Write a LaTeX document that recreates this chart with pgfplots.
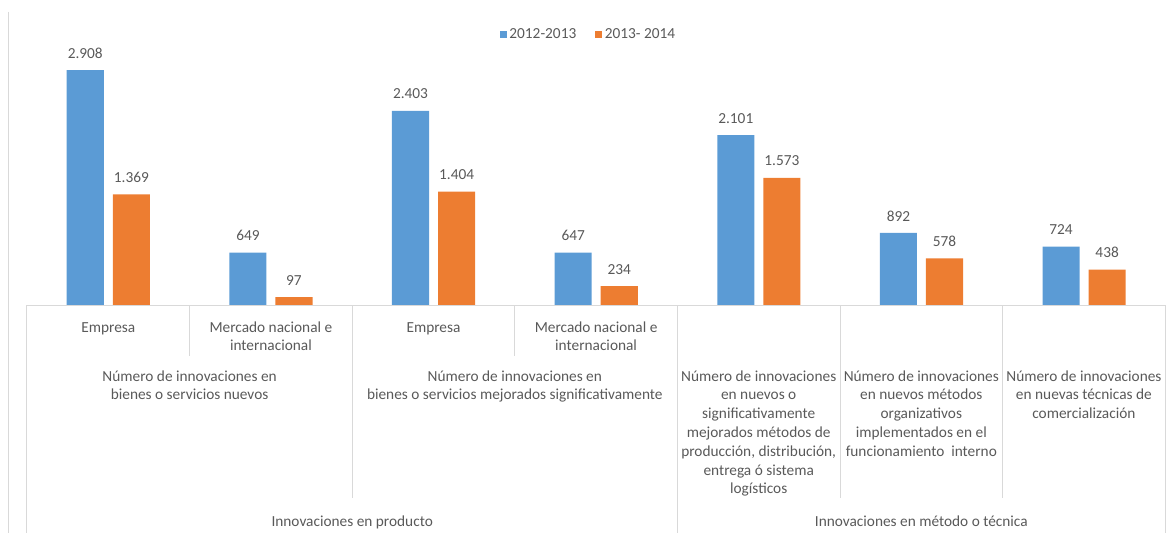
\documentclass[border=0pt]{standalone}
\usepackage{fontspec}
\setmainfont{Carlito}
\usepackage{pgfplots}
\pgfplotsset{compat=1.18}
\definecolor{cblue}{HTML}{5B9BD5}
\definecolor{corange}{HTML}{ED7D31}
\definecolor{ctext}{HTML}{595959}
\definecolor{cgrid}{HTML}{D9D9D9}
\newcommand{\lab}{\fontsize{11.5}{14}\selectfont}
% multi-line label: x, first baseline y (px), lines
\newcommand{\ml}[3]{%
  \foreach \t [count=\i from 0] in {#3}
    \node[anchor=base, inner sep=0pt, text=ctext, font=\lab] at (#1, #2+18.8*\i) {\t};%
}
\begin{document}
\begin{tikzpicture}
\begin{axis}[
  at={(0pt,0pt)}, anchor=south west,
  scale only axis, width=853.8pt, height=181.8pt,
  xmin=-0.5, xmax=6.5, ymin=0, ymax=3000,
  axis lines=none, xtick=\empty, ytick=\empty,
  clip=false,
  ybar=6.75pt,
  bar width=0.228,
  /pgf/number format/assume math mode=true,
  /pgf/number format/1000 sep={.},
  nodes near coords,
  every node near coord/.append style={font=\lab, text=ctext, anchor=center, yshift=12.75pt},
  legend columns=2,
  legend style={at={(0.4934,1.114)}, anchor=center, draw=none, fill=none,
    font=\lab, text=ctext, inner sep=0pt,
    /tikz/every even column/.append style={column sep=12pt}},
  legend image code/.code={\fill[#1,draw=none] (0pt,-2.6pt) rectangle (5.4pt,2.8pt);},
]
\addplot[fill=cblue, draw=none]
  coordinates {(0,2908) (1,649) (2,2403) (3,647) (4,2101) (5,892) (6,724)};
\addplot[fill=corange, draw=none]
  coordinates {(0,1369) (1,97) (2,1404) (3,234) (4,1573) (5,578) (6,438)};
\legend{2012-2013, 2013- 2014}
\end{axis}
\begin{scope}[shift={(-20.25pt,228.75pt)}, x=0.75pt, y=-0.75pt]
  \draw[cgrid, line width=0.75pt] (8.3,12) -- (8.3,533);
  \draw[cgrid, line width=0.75pt] (27,305) -- (1165.2,305);
  \foreach \x in {27, 677.4, 1165.2} \draw[cgrid, line width=0.75pt] (\x,305) -- (\x,533);
  \foreach \x in {189.6, 514.8} \draw[cgrid, line width=0.75pt] (\x,305) -- (\x,356);
  \foreach \x in {352.2, 840, 1002.6} \draw[cgrid, line width=0.75pt] (\x,305) -- (\x,498);
  % level 1
  \ml{108.3}{332}{Empresa}
  \ml{270.9}{332}{Mercado nacional e, internacional}
  \ml{433.5}{332}{Empresa}
  \ml{596.1}{332}{Mercado nacional e, internacional}
  % level 2
  \ml{189.6}{381}{Número de innovaciones en, bienes o servicios nuevos}
  \ml{514.8}{381}{Número de innovaciones en, bienes o servicios mejorados significativamente}
  \ml{758.7}{381}{Número de innovaciones, en nuevos o, significativamente, mejorados métodos de, {producción, distribución,}, entrega ó sistema, logísticos}
  \ml{921.3}{381}{Número de innovaciones, en nuevos métodos, organizativos, implementados en el, funcionamiento\ \ interno}
  \ml{1083.9}{381}{Número de innovaciones, en nuevas técnicas de, comercialización}
  % level 3
  \ml{352.2}{526}{Innovaciones en producto}
  \ml{921.3}{526}{Innovaciones en método o técnica}
  \pgfresetboundingbox
  \path (0,0) rectangle (1169,533);
\end{scope}
\end{tikzpicture}
\end{document}
